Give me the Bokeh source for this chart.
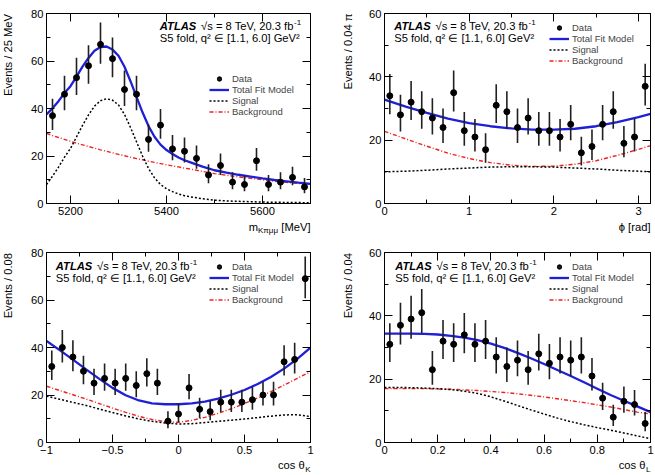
import numpy as np
from bokeh.embed import file_html
from bokeh.resources import INLINE
from bokeh.layouts import column, row
from bokeh.models import (ColumnDataSource, CustomLabelingPolicy, FixedTicker, Label,
                          Legend, LegendItem, LinearAxis, Range1d)
from bokeh.plotting import figure

FONT = "Liberation Sans"
FS = "11.2px"
SUB_FS = "8px"
FRAME_H = 190

# ---------------- m(K pi mu mu) projection ----------------
mass_range = (5150, 5700)
mass_bins = 22
mass_counts = [37, 46, 53, 58, 67, 61, 48, 46, 27, 33, 23, 22, 19, 12, 16, 9, 8, 18, 8, 9, 11, 7]
mass_curve_x = [5150, 5162.5, 5175, 5187.5, 5200, 5212.5, 5225, 5237.5, 5250, 5262.5,
                5275, 5287.5, 5300, 5312.5, 5325, 5337.5, 5350, 5362.5, 5375, 5387.5,
                5400, 5412.5, 5425, 5437.5, 5450, 5475, 5500, 5525, 5550, 5575,
                5600, 5625, 5650, 5675, 5700]
mass_total = [37.5, 40.1, 43.1, 46.5, 49.4, 53.4, 57.6, 61.3, 64.3, 65.9,
              66.1, 64.8, 62.2, 57.6, 51.5, 44.9, 38.4, 32.6, 28.1, 24.8,
              22.5, 20.8, 19.4, 18.2, 17.3, 15.5, 14.0, 13.0, 12.1, 11.35,
              10.6, 9.9, 9.35, 8.8, 8.3]
mass_signal = [8.0, 11.5, 15.3, 19.5, 23.2, 28.0, 32.9, 37.3, 41.0, 43.3,
               44.1, 43.5, 41.5, 37.5, 32.0, 26.0, 20.0, 14.8, 10.8, 8.0,
               6.2, 5.0, 4.0, 3.3, 2.8, 2.0, 1.4, 1.1, 0.9, 0.75,
               0.6, 0.5, 0.45, 0.4, 0.3]
mass_background = [29.5, 28.6, 27.8, 27.0, 26.2, 25.4, 24.7, 24.0, 23.3, 22.6,
                   22.0, 21.3, 20.7, 20.1, 19.5, 18.9, 18.4, 17.8, 17.3, 16.8,
                   16.3, 15.8, 15.4, 14.9, 14.5, 13.5, 12.6, 11.9, 11.2, 10.6,
                   10.0, 9.4, 8.9, 8.4, 8.0]
mass_ticks = [5200, 5400, 5600]
mass_minor = [5300, 5500]

# ---------------- phi projection ----------------
phi_range = (0, np.pi)
phi_bins = 25
phi_counts = [34, 28, 32, 29, 27, 24, 35, 23, 21, 17, 31, 29, 24, 27, 23, 23, 21, 25,
              16, 18, 25, 29, 19, 21, 37]
phi_curve_x = [0, 0.25, 0.5, 0.75, 1.0, 1.25, 1.5, 1.75, 2.0, 2.25, 2.5, 2.75, 3.0, np.pi]
phi_total = [32.8, 30.6, 28.6, 26.8, 25.4, 24.4, 23.7, 23.3, 23.3, 23.6, 24.4, 25.7, 27.3, 28.3]
phi_signal = [10.0, 10.2, 10.5, 10.9, 11.2, 11.5, 11.6, 11.6, 11.5, 11.2, 10.9, 10.5, 10.2, 10.0]
phi_background = [22.8, 20.4, 18.1, 15.9, 14.2, 12.9, 12.1, 11.7, 11.8, 12.4, 13.5, 15.2, 17.1, 18.3]
phi_ticks = [0, 1, 2, 3]
phi_minor = [0.5, 1.5, 2.5]

# ---------------- cos(theta_K) projection ----------------
ck_range = (-1, 1)
ck_bins = 25
ck_counts = [32, 40, 36, 30, 25, 27, 25, 27, 24, 29, 25, 9, 12, 23, 14, 13, 17, 17,
             17, 18, 20, 20, 34, 35, 69]
ck_curve_x = [-1.0, -0.9, -0.8, -0.7, -0.6, -0.5, -0.4, -0.3, -0.2, -0.1, 0.0,
              0.1, 0.2, 0.3, 0.4, 0.5, 0.6, 0.7, 0.8, 0.9, 1.0]
ck_total = [42.8, 38.9, 34.9, 30.8, 26.8, 23.0, 19.9, 17.7, 16.5, 16.1, 16.1,
            16.5, 17.2, 18.5, 20.1, 22.1, 24.6, 27.6, 31.1, 35.2, 39.9]
ck_signal = [19.5, 18.2, 16.9, 15.6, 14.1, 12.6, 11.2, 9.9, 8.9, 8.2, 7.8,
             7.9, 8.4, 8.9, 9.4, 9.9, 10.5, 11.1, 11.6, 11.7, 10.9]
ck_background = [23.7, 21.9, 20.1, 18.3, 16.4, 14.5, 12.7, 11.0, 9.7, 8.8, 8.5,
                 9.3, 10.6, 12.3, 14.2, 16.4, 18.8, 21.4, 24.2, 27.0, 29.8]
ck_ticks = [-1, -0.5, 0, 0.5, 1]
ck_minor = [-0.75, -0.25, 0.25, 0.75]
ck_tick_labels = {-1: "\u22121", -0.5: "\u22120.5", 0: "0", 0.5: "0.5", 1: "1"}

# ---------------- cos(theta_L) projection ----------------
cl_range = (0, 1)
cl_bins = 25
cl_counts = [31, 37, 39, 41, 23, 32, 31, 34, 31, 32, 27, 24, 26, 23, 28, 25, 27, 26,
             27, 21, 14, 8, 13, 12, 6]
cl_curve_x = [0.0, 0.05, 0.1, 0.15, 0.2, 0.25, 0.3, 0.35, 0.4, 0.45, 0.5,
              0.55, 0.6, 0.65, 0.7, 0.75, 0.8, 0.85, 0.9, 0.95, 1.0]
cl_total = [34.4, 34.4, 34.4, 34.3, 34.1, 33.7, 33.1, 32.3, 31.2, 29.9, 28.3,
            26.6, 24.8, 22.9, 21.0, 19.0, 17.0, 15.0, 13.2, 11.4, 9.6]
cl_signal = [17.4, 17.4, 17.3, 17.2, 17.0, 16.7, 16.2, 15.5, 14.4, 13.1, 11.7,
             10.3, 9.0, 7.7, 6.6, 5.6, 4.7, 3.9, 3.0, 2.1, 1.2]
cl_background = [17.0, 17.0, 17.0, 17.0, 16.9, 16.8, 16.6, 16.4, 16.1, 15.8, 15.4,
                 14.9, 14.4, 13.8, 13.2, 12.6, 11.9, 11.2, 10.4, 9.6, 9.0]
cl_ticks = [0, 0.2, 0.4, 0.6, 0.8, 1]
cl_minor = [0.1, 0.3, 0.5, 0.7, 0.9]
cl_tick_labels = {0: "0", 0.2: "0.2", 0.4: "0.4", 0.6: "0.6", 0.8: "0.8", 1: "1"}

y80_ticks, y80_minor = [0, 20, 40, 60, 80], [10, 30, 50, 70]
y60_ticks, y60_minor = [0, 20, 40, 60], [10, 30, 50]

BLUE = "#1f1fd6"
RED = "#f02020"


def poisson_bars(counts):
    n = np.asarray(counts, dtype=float)
    return n - np.sqrt(n), n + np.sqrt(n + 0.75) + 1.0


def style_axis(ax, ticks, minor, show_labels=True, overrides=None):
    ax.ticker = FixedTicker(ticks=ticks, minor_ticks=minor)
    ax.major_tick_in, ax.major_tick_out = 8, 0
    ax.minor_tick_in, ax.minor_tick_out = 4, 0
    for attr in ("axis_line_color", "major_tick_line_color", "minor_tick_line_color"):
        setattr(ax, attr, "black")
    ax.major_label_text_font = FONT
    ax.major_label_text_color = "black"
    ax.major_label_text_font_size = FS
    if show_labels:
        ax.major_label_standoff = 3
        if overrides:
            ax.major_label_overrides = overrides
    else:
        # mirrored tick marks only: keep no labels at all
        ax.major_label_standoff = 0
        ax.major_label_policy = CustomLabelingPolicy(code="return []")


def screen_label(p, x, y, text, size=FS, align="left", style="normal", angle=0.0):
    p.add_layout(Label(x=x, y=y, x_units="screen", y_units="screen", text=text,
                       text_font=FONT, text_font_size=size, text_font_style=style,
                       text_align=align, text_baseline="middle", angle=angle,
                       text_color="black"))


def strip(width, height, top=0, bottom=0):
    """Blank canvas that carries an axis title next to a panel."""
    s = figure(width=width, height=height, x_range=Range1d(0, 1), y_range=Range1d(0, 1),
               min_border_left=0, min_border_right=0,
               min_border_top=top, min_border_bottom=bottom,
               toolbar_location=None, output_backend="svg",
               x_axis_location=None, y_axis_location=None,
               outline_line_color=None, background_fill_color="white",
               border_fill_color="white")
    s.xgrid.visible = False
    s.ygrid.visible = False
    return s


def panel(xr, yr, nbins, counts, cx, total, signal, background,
          xticks, xminor, yticks, yminor, borders, fw, legend_at, atlas_at,
          xoverrides=None):
    left, right, top, bottom = borders
    p = figure(frame_width=fw, frame_height=FRAME_H,
               x_range=Range1d(*xr), y_range=Range1d(*yr),
               min_border_left=left, min_border_right=right,
               min_border_top=top, min_border_bottom=bottom,
               output_backend="svg", toolbar_location=None,
               background_fill_color="white", border_fill_color="white")
    p.xgrid.visible = False
    p.ygrid.visible = False
    p.outline_line_color = "black"
    p.outline_line_width = 1

    style_axis(p.xaxis[0], xticks, xminor, overrides=xoverrides)
    style_axis(p.yaxis[0], yticks, yminor)
    top_axis, right_axis = LinearAxis(), LinearAxis()
    style_axis(top_axis, xticks, xminor, show_labels=False)
    style_axis(right_axis, yticks, yminor, show_labels=False)
    p.add_layout(top_axis, "above")
    p.add_layout(right_axis, "right")

    # histogram bin centres and Poisson error bars
    edges = np.linspace(xr[0], xr[1], nbins + 1)
    centres = 0.5 * (edges[:-1] + edges[1:])
    low, high = poisson_bars(counts)
    src = ColumnDataSource(dict(x=centres, y=counts, low=low, high=high))

    bkg_r = p.line(cx, background, line_color=RED, line_width=1.4, line_dash="4 2 1 2")
    sig_r = p.line(cx, signal, line_color="black", line_width=1.5, line_dash="2 2")
    tot_r = p.line(cx, total, line_color=BLUE, line_width=2.3)
    p.segment(x0="x", y0="low", x1="x", y1="high", source=src,
              line_color="#202020", line_width=1.6)
    pts = p.scatter(x="x", y="y", source=src, marker="circle", size=6,
                    fill_color="black", line_color="black")
    bar_key = p.scatter(x="x", y="y", source=src, marker="dash", angle=np.pi / 2,
                        size=10, line_color="#202020", line_width=1.6, visible=False)

    legend = Legend(items=[LegendItem(label="Data", renderers=[pts, bar_key]),
                           LegendItem(label="Total Fit Model", renderers=[tot_r]),
                           LegendItem(label="Signal", renderers=[sig_r]),
                           LegendItem(label="Background", renderers=[bkg_r])],
                    location=legend_at, glyph_width=20, glyph_height=11,
                    label_height=11, label_standoff=3, spacing=0, padding=0, margin=0,
                    label_text_font=FONT, label_text_font_size="9.5px",
                    border_line_alpha=0, background_fill_alpha=0)
    p.add_layout(legend)

    ax, ay = atlas_at
    screen_label(p, ax, ay, "ATLAS", style="bold italic")
    screen_label(p, ax + 41.3, ay, "\u221as = 8 TeV, 20.3 fb")
    screen_label(p, ax + 134.3, ay + 3.2, "-1", size=SUB_FS)
    screen_label(p, ax, ay - 12, "S5 fold, q\u00b2 \u2208 [1.1, 6.0] GeV\u00b2")
    return p


def ytitle(width, borders, x, gap, length, text):
    """Vertical axis title whose upper end sits `gap` px below the frame top."""
    top, bottom = borders
    s = strip(width, top + FRAME_H + bottom, top=top, bottom=bottom)
    screen_label(s, x, FRAME_H - gap - length / 2, text, align="center", angle=np.pi / 2)
    return s


# ---- top left: mass ----
p1 = panel(mass_range, (0, 80), mass_bins, mass_counts, mass_curve_x, mass_total,
           mass_signal, mass_background, mass_ticks, mass_minor, y80_ticks, y80_minor,
           (18, 17, 13, 17), 264, (163, 86), (113.3, 178))
y1 = ytitle(28, (13, 17), 7.7, 0.5, 82, "Events / 25 MeV")
x1 = strip(327, 17)
screen_label(x1, 310, 11, "[MeV]", align="right")
screen_label(x1, 310 - 32.5, 7, "K\u03c0\u03bc\u03bc", size=SUB_FS, align="right")
screen_label(x1, 310 - 52.5, 11, "m", align="right")

# ---- top right: phi ----
p2 = panel(phi_range, (0, 60), phi_bins, phi_counts, phi_curve_x, phi_total,
           phi_signal, phi_background, phi_ticks, phi_minor, y60_ticks, y60_minor,
           (21, 5, 13, 17), 266, (165, 137), (9.7, 178))
y2 = ytitle(36, (13, 17), 20.3, 0.5, 75, "Events / 0.04 \u03c0")
x2 = strip(328, 17)
screen_label(x2, 323, 10.5, "\u03d5 [rad]", align="right")

# ---- bottom left: cos theta_K ----
p3 = panel(ck_range, (0, 80), ck_bins, ck_counts, ck_curve_x, ck_total,
           ck_signal, ck_background, ck_ticks, ck_minor, y80_ticks, y80_minor,
           (18, 17, 15, 17), 264, (163, 137), (9.3, 176.5),
           xoverrides=ck_tick_labels)
y3 = ytitle(28, (15, 17), 7.7, 0.5, 65.4, "Events / 0.08")
x3 = strip(327, 16)
screen_label(x3, 310, 6, "K", size=SUB_FS, align="right")
screen_label(x3, 310 - 5.8, 10.5, "cos \u03b8", align="right")

# ---- bottom right: cos theta_L ----
p4 = panel(cl_range, (0, 60), cl_bins, cl_counts, cl_curve_x, cl_total,
           cl_signal, cl_background, cl_ticks, cl_minor, y60_ticks, y60_minor,
           (21, 5, 15, 17), 266, (165, 137), (10.7, 176.5),
           xoverrides=cl_tick_labels)
y4 = ytitle(36, (15, 17), 20.3, 0.5, 65.4, "Events / 0.04")
x4 = strip(328, 16)
screen_label(x4, 323, 6, "L", size=SUB_FS, align="right")
screen_label(x4, 323 - 5.0, 10.5, "cos \u03b8", align="right")

layout = column(
    row(column(row(y1, p1), x1), column(row(y2, p2), x2)),
    row(column(row(y3, p3), x3), column(row(y4, p4), x4)),
)
open("out.html", "w").write(file_html(layout, INLINE))
